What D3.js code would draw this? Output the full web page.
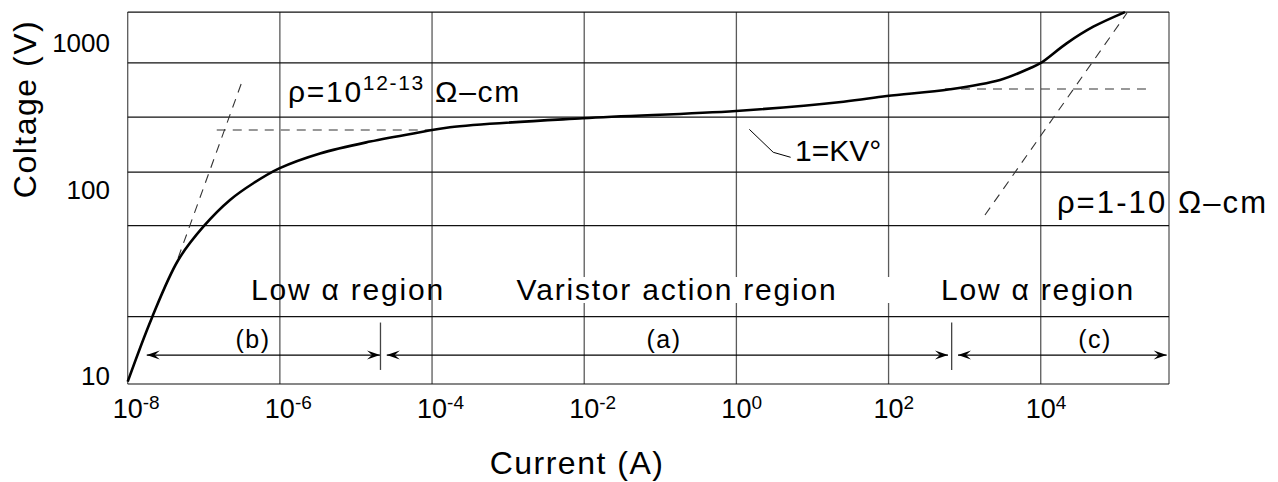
<!DOCTYPE html>
<html>
<head>
<meta charset="utf-8">
<script src="https://cdn.jsdelivr.net/npm/d3@7"></script>
<style>
  body { margin: 0; background: #fff; }
  text { font-family: "Liberation Sans", Arial, sans-serif; fill: #000; }
</style>
</head>
<body>
<div id="container"></div>
<script>
// V-I curve of the varistor (current in A, voltage in V)
let currents = [1e-8, 2.07e-8, 4.62e-8, 9.86e-8, 2.21e-7, 4.48e-7, 9.8e-7, 3.37e-6, 1.53e-5, 6.95e-5, 1.72e-4,
                9.6e-3, 0.99, 25.6, 95, 641, 2910, 7210, 1.0e4, 2.19e4, 4.91e4, 1.28e5];
let voltages = [10.3, 22.6, 46.4, 70.1, 97.6, 126, 159, 201, 242, 280, 303,
                349, 391, 452, 494, 549, 635, 763, 829, 1128, 1463, 1840];

// grid
let xGrid = [1e-8, 1e-6, 1e-4, 1e-2, 1, 1e2, 1e4, 4.85e5];
let yGrid = [10, 23, 71, 150, 355, 830, 1840];
let xTickExp = [-8, -6, -4, -2, 0, 2, 4];
let yTicks = [10, 100, 1000];

// dashed asymptotes  [I1, V1, I2, V2]
let dashed = [
  [4.6e-8, 47.6, 3.2e-7, 625],
  [1.48e-7, 290, 1e-4, 290],
  [551, 551, 2.49e5, 551],
  [1850, 81, 1.36e5, 1813]
];

// region arrows  [from, to] at V = 14.3
let arrowV = 14.3;
let arrows = [[1.78e-8, 2.07e-5], [2.54e-5, 604], [817, 4.52e5]];
let arrowLabels = ["(b)", "(a)", "(c)"];
let arrowLabelI = [4.44e-7, 0.112, 5.16e4];
let dividers = [2.1e-5, 675];

let regionNames = ["Low \u03b1 region", "Varistor action region", "Low \u03b1 region"];
let regionI = [7.85e-6, 0.166, 9200];

let leaderI = [1.48, 3.05, 5.16];
let leaderV = [293, 204.6, 189.2];

let w = 1278;
let h = 482;

let viz = d3.select("#container")
  .append("svg")
    .attr("width", w)
    .attr("height", h)
    .style("background-color", "white");

let xScale = d3.scaleLog().domain([1e-8, 4.85e5]).range([127.7, 1169]);
let yScale = d3.scaleLog().domain([10, 100, 1000]).range([384, 198, 51]);

// grid lines
viz.selectAll(".vgrid").data(xGrid).enter().append("line")
  .attr("class", "vgrid")
  .attr("x1", d => xScale(d)).attr("x2", d => xScale(d))
  .attr("y1", yScale(1840)).attr("y2", yScale(10))
  .attr("stroke", "#5a5a5a")
  .attr("stroke-width", 1.3);

viz.selectAll(".hgrid").data(yGrid).enter().append("line")
  .attr("class", "hgrid")
  .attr("x1", xScale(1e-8)).attr("x2", xScale(4.85e5))
  .attr("y1", d => yScale(d)).attr("y2", d => yScale(d))
  .attr("stroke", "#111")
  .attr("stroke-width", 1.2);

// white patch behind the middle label (it breaks the grid in the original)
viz.append("rect")
  .attr("x", xScale(0.166) - 175)
  .attr("y", yScale(37.6))
  .attr("width", 393)
  .attr("height", 26)
  .attr("fill", "white");

// dashed lines
viz.selectAll(".dash").data(dashed).enter().append("line")
  .attr("x1", d => xScale(d[0])).attr("y1", d => yScale(d[1]))
  .attr("x2", d => xScale(d[2])).attr("y2", d => yScale(d[3]))
  .attr("stroke", "#333")
  .attr("stroke-width", 1.1)
  .attr("stroke-dasharray", "9,7");

// main curve
let curve = d3.line()
  .x(d => xScale(d[0]))
  .y(d => yScale(d[1]))
  .curve(d3.curveCatmullRom.alpha(0.5));

viz.append("path")
  .datum(d3.zip(currents, voltages))
  .attr("d", curve)
  .attr("fill", "none")
  .attr("stroke", "#000")
  .attr("stroke-width", 2.6);

// arrows
function head(x, y, dir) {
  // dir = -1 points left, 1 points right
  let l = 13, hw = 4.5, back = 5;
  return "M" + x + "," + y +
    "L" + (x - dir * l) + "," + (y - hw) +
    "L" + (x - dir * (l - back)) + "," + y +
    "L" + (x - dir * l) + "," + (y + hw) + "Z";
}

let ay = yScale(arrowV);
arrows.forEach(function(a) {
  let x1 = xScale(a[0]), x2 = xScale(a[1]);
  viz.append("line")
    .attr("x1", x1).attr("x2", x2).attr("y1", ay).attr("y2", ay)
    .attr("stroke", "#000").attr("stroke-width", 1.2);
  viz.append("path").attr("d", head(x1, ay, -1)).attr("fill", "#000");
  viz.append("path").attr("d", head(x2, ay, 1)).attr("fill", "#000");
});

viz.selectAll(".divider").data(dividers).enter().append("line")
  .attr("x1", d => xScale(d)).attr("x2", d => xScale(d))
  .attr("y1", yScale(21.4)).attr("y2", yScale(11.9))
  .attr("stroke", "#444").attr("stroke-width", 1.3);

viz.selectAll(".alabel").data(arrowLabels).enter().append("text")
  .text(d => d)
  .attr("x", (d, i) => xScale(arrowLabelI[i]))
  .attr("y", yScale(15.6))
  .attr("text-anchor", "middle")
  .style("font-size", "25px")
  .style("letter-spacing", "1.5px");

viz.selectAll(".rlabel").data(regionNames).enter().append("text")
  .text(d => d)
  .attr("x", (d, i) => xScale(regionI[i]))
  .attr("y", yScale(28.3))
  .attr("text-anchor", "middle")
  .style("font-size", "30px")
  .style("letter-spacing", "1.8px");

// resistivity notes
let rho1 = viz.append("text")
  .attr("x", xScale(1.28e-6))
  .attr("y", yScale(450))
  .style("font-size", "30px")
  .style("letter-spacing", "1.7px");
rho1.append("tspan").text("\u03c1=10");
rho1.append("tspan").text("12-13").attr("dy", -12).style("font-size", "21px");
rho1.append("tspan").text(" \u03a9\u2013cm").attr("dy", 12);

viz.append("text")
  .attr("x", xScale(1.63e4))
  .attr("y", yScale(83))
  .style("font-size", "31px")
  .style("letter-spacing", "2.1px")
  .text("\u03c1=1-10 \u03a9\u2013cm");

// 1=KV note with leader
viz.append("path")
  .datum(d3.zip(leaderI, leaderV))
  .attr("d", d3.line().x(d => xScale(d[0])).y(d => yScale(d[1])))
  .attr("fill", "none")
  .attr("stroke", "#000")
  .attr("stroke-width", 1);

viz.append("text")
  .attr("x", xScale(5.89))
  .attr("y", yScale(178.6))
  .style("font-size", "30px")
  .text("1=KV\u00b0");

// y tick labels
viz.selectAll(".ytick").data(yTicks).enter().append("text")
  .text(d => d)
  .attr("x", 110)
  .attr("y", d => yScale(d) + 1)
  .attr("text-anchor", "end")
  .style("font-size", "26px");

// x tick labels: "10" centred on the grid line, exponent after it
xTickExp.forEach(function(e) {
  let gx = xScale(Math.pow(10, e));
  let t = viz.append("text").attr("y", 418).style("font-size", "27px");
  t.append("tspan").text("10");
  t.append("tspan").text(e).attr("dy", -9).style("font-size", "19px");
  let w10 = t.node().getSubStringLength(0, 2);
  t.attr("x", gx - w10 / 2);
});

// axis titles
viz.append("text")
  .attr("x", 577)
  .attr("y", 474)
  .attr("text-anchor", "middle")
  .style("font-size", "32px")
  .style("letter-spacing", "1.5px")
  .text("Current (A)");

viz.append("text")
  .attr("transform", "translate(36,109) rotate(-90)")
  .attr("text-anchor", "middle")
  .style("font-size", "32px")
  .style("letter-spacing", "1.5px")
  .text("Coltage (V)");
</script>
</body>
</html>
